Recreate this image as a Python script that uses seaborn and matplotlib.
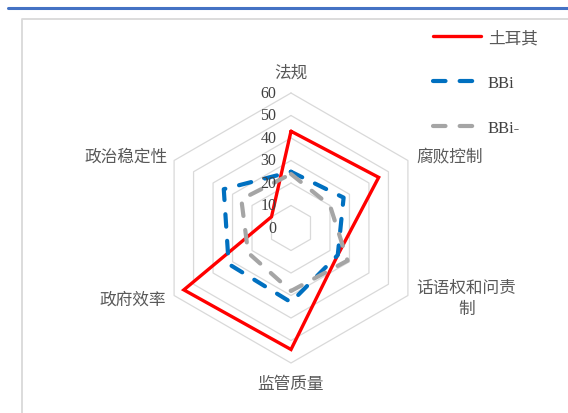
import numpy as np
import pandas as pd
import matplotlib
matplotlib.use("Agg")
import matplotlib.pyplot as plt
from matplotlib.lines import Line2D
import seaborn as sns

# ---- data ----
categories = ["法规", "腐败控制", "话语权和问责\n制", "监管质量", "政府效率", "政治稳定性"]
series_names = ["土耳其", "BBi", "BBi-"]
turkey = [43, 45, 24, 54, 55, 10]
bbi = [25, 27, 24, 33, 32, 34.5]
bbi_minus = [24, 20, 29, 28, 22, 25.5]
ring_values = [0, 10, 20, 30, 40, 50, 60]
tick_labels = ["0", "10", "20", "30", "40", "50", "60"]
colors = {"土耳其": "#FF0000", "BBi": "#0070C0", "BBi-": "#A5A5A5"}

sns.set_theme(style="white")
plt.rcParams["font.family"] = ["Liberation Serif", "Noto Sans CJK SC", "DejaVu Sans"]

n = len(categories)
angles = np.pi / 2 - np.arange(n) * 2 * np.pi / n  # clockwise from top


def to_xy(vals):
    v = np.asarray(list(vals) + [vals[0]], dtype=float)
    a = np.append(angles, angles[0])
    return v * np.cos(a), v * np.sin(a)


rows = []
for name, vals in zip(series_names, [turkey, bbi, bbi_minus]):
    xs, ys = to_xy(vals)
    for i, (x, y) in enumerate(zip(xs, ys)):
        rows.append({"series": name, "order": i, "x": x, "y": y})
df = pd.DataFrame(rows)

W, H = 568, 414
fig = plt.figure(figsize=(W / 100, H / 100), dpi=100)
ax = fig.add_axes([0, 0, 1, 1])
cx, cy, scale = 291, 229, 2.25  # pixel centre, px per unit
ax.set_xlim((0 - cx) / scale, (W - cx) / scale)
ax.set_ylim(-(H - cy) / scale, cy / scale)
ax.set_aspect("equal")
ax.axis("off")

# hexagon grid
for rv in ring_values[1:]:
    gx, gy = to_xy([rv] * n)
    ax.plot(gx, gy, color="#D9D9D9", lw=0.9, zorder=1)

# series
sns.lineplot(data=df, x="x", y="y", hue="series", style="series",
             hue_order=series_names, style_order=series_names,
             palette=colors, dashes={"土耳其": "", "BBi": (3.0, 3.4), "BBi-": (3.0, 3.4)},
             sort=False, estimator=None, units="series", legend=False, ax=ax, zorder=3)
for line in ax.lines[len(ring_values) - 1:]:
    c = matplotlib.colors.to_hex(line.get_color()).upper()
    if c == "#FF0000":
        line.set_linewidth(2.4)
    else:
        line.set_linewidth(3.0)
        line.set_dash_capstyle("round")
    line.set_solid_joinstyle("miter")

# tick labels
for rv, tl in zip(ring_values, tick_labels):
    ax.text(-6.5, rv, tl, ha="right", va="center", fontsize=11.5,
            color="#404040", family=["Liberation Serif"])

# category labels
offsets = [(0, 15, "center"), (6, 3, "left"), (42, -2, "center"),
           (0, -14.5, "center"), (-6, -2.5, "right"), (-5, 3, "right")]
for cat, a, (dx, dy, ha) in zip(categories, angles, offsets):
    ax.annotate(cat, xy=(60 * np.cos(a), 60 * np.sin(a)), xytext=(dx, dy),
                textcoords="offset points", ha=ha, va="center", fontsize=12,
                color="#595959", family=["Noto Sans CJK SC"], linespacing=1.3,
                multialignment="center")

# legend
handles = [
    Line2D([], [], color=colors["土耳其"], lw=2.4),
    Line2D([], [], color=colors["BBi"], lw=3.0, dashes=(3.0, 3.4), dash_capstyle="round"),
    Line2D([], [], color=colors["BBi-"], lw=3.0, dashes=(3.0, 3.4), dash_capstyle="round"),
]
leg = ax.legend(handles, series_names, loc="upper left",
                bbox_to_anchor=(433 / W, 1 - 31 / H), bbox_transform=fig.transFigure,
                frameon=False, handlelength=2.9, handletextpad=0.4,
                labelspacing=1.75, borderpad=0, borderaxespad=0,
                prop={"family": ["Liberation Serif", "Noto Sans CJK SC"], "size": 12})
for t in leg.get_texts():
    t.set_color("#595959" if t.get_text() == "土耳其" else "#404040")

# frame decorations
fig.add_artist(Line2D([8 / W, 1], [1 - 8.5 / H] * 2, color="#4472C4", lw=2.2,
                      transform=fig.transFigure))
fig.add_artist(Line2D([22 / W, 22 / W, 1], [0, 1 - 20 / H, 1 - 20 / H],
                      color="#D9D9D9", lw=1.3, transform=fig.transFigure))

fig.savefig("out.png", dpi=100, facecolor="white")
